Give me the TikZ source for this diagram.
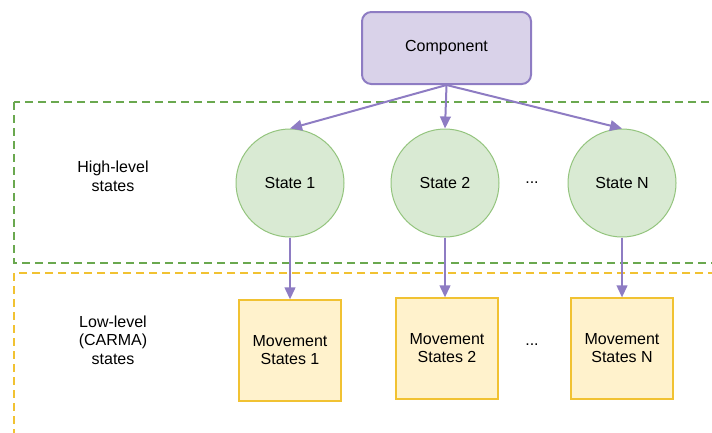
\documentclass[tikz,border=0pt]{standalone}
\usepackage{fontspec}
\setmainfont{Liberation Sans}
\usetikzlibrary{arrows.meta, positioning}
\definecolor{cpurple}{HTML}{8E7CC3}
\definecolor{cpurplefill}{HTML}{D9D2E9}
\definecolor{cgreen}{HTML}{6AA84F}
\definecolor{cgreenline}{HTML}{93C47D}
\definecolor{cgreenfill}{HTML}{D9EAD3}
\definecolor{cyellow}{HTML}{F1C232}
\definecolor{cyellowfill}{HTML}{FFF2CC}
\tikzset{
  every picture/.style={x=0.75pt, y=-0.75pt, font=\fontsize{12}{13.5}\selectfont},
  comp/.style={draw=cpurple, fill=cpurplefill, rounded corners=7pt, line width=1.5pt, minimum width=126.75pt, minimum height=54pt},
  statenode/.style={circle, draw=cgreenline, fill=cgreenfill, line width=0.75pt, minimum size=81pt, inner sep=0pt},
  movebox/.style={draw=cyellow, fill=cyellowfill, line width=0.9pt, minimum width=76.5pt, minimum height=75.75pt, align=center},
  arrow/.style={-{Triangle[length=9pt, width=8pt]}, draw=cpurple, line width=1.5pt},
  layer/.style={dash pattern=on 6pt off 3.75pt, line width=1.5pt},
  note/.style={align=center, font=\fontsize{12}{14}\selectfont},
}
\begin{document}
\begin{tikzpicture}
  \clip (0,0) rectangle (712,432);
  \draw[layer, draw=cgreen] (14,102) rectangle (740,263);
  \draw[layer, draw=cyellow] (14,273) rectangle (740,470);
  \node[note] (high) at (113,176) {High-level\\states};
  \node[note] (low) at (113,340) {Low-level\\(CARMA)\\states};
  \node[comp] (comp) at (446.5,48) {Component};
  \node[statenode] (s1) at (290,183) {State 1};
  \node[statenode] (s2) at (445,183) {State 2};
  \node[statenode] (sn) at (622,183) {State N};
  \node (dotsa) at (532,183) {...};
  \node[movebox] (m1) at (290,350.5) {Movement\\States 1};
  \node[movebox] (m2) at (447,348.5) {Movement\\States 2};
  \node[movebox] (mn) at (622,348.5) {Movement\\States N};
  \node (dotsb) at (532,345) {...};
  \draw[arrow] (comp.south) -- (s1.north);
  \draw[arrow] (comp.south) -- (s2.north);
  \draw[arrow] (comp.south) -- (sn.north);
  \draw[arrow] (s1.south) -- (s1.south |- m1.north);
  \draw[arrow] (s2.south) -- (s2.south |- m2.north);
  \draw[arrow] (sn.south) -- (sn.south |- mn.north);
\end{tikzpicture}
\end{document}
